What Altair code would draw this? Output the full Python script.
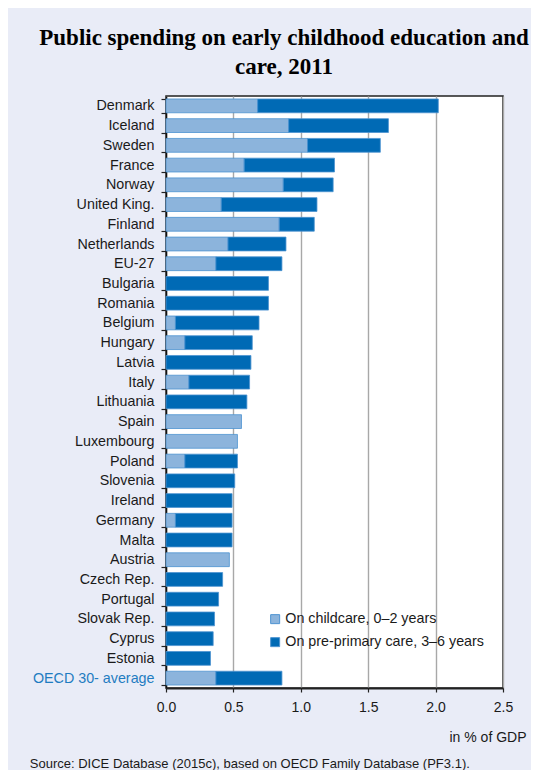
import altair as alt
import pandas as pd

countries = ["Denmark", "Iceland", "Sweden", "France", "Norway", "United King.", "Finland",
             "Netherlands", "EU-27", "Bulgaria", "Romania", "Belgium", "Hungary", "Latvia",
             "Italy", "Lithuania", "Spain", "Luxembourg", "Poland", "Slovenia", "Ireland",
             "Germany", "Malta", "Austria", "Czech Rep.", "Portugal", "Slovak Rep.", "Cyprus",
             "Estonia", "OECD 30- average"]
childcare = [0.68, 0.91, 1.05, 0.58, 0.87, 0.41, 0.84, 0.46, 0.37, 0.0, 0.0, 0.07, 0.14, 0.0,
             0.17, 0.0, 0.56, 0.53, 0.14, 0.0, 0.0, 0.07, 0.0, 0.47, 0.0, 0.0, 0.0, 0.0, 0.0, 0.37]
preprimary = [1.34, 0.74, 0.54, 0.67, 0.37, 0.71, 0.26, 0.43, 0.49, 0.76, 0.76, 0.62, 0.50, 0.63,
              0.45, 0.60, 0.0, 0.0, 0.39, 0.51, 0.49, 0.42, 0.49, 0.0, 0.42, 0.39, 0.36, 0.35,
              0.33, 0.49]
series_names = ["On childcare, 0\u20132 years", "On pre-primary care, 3\u20136 years"]
x_ticks = [0.0, 0.5, 1.0, 1.5, 2.0, 2.5]

rows = []
for c, a, b in zip(countries, childcare, preprimary):
    if a > 0:
        rows.append({"country": c, "series": series_names[0], "value": a, "ord": 0})
    if b > 0:
        rows.append({"country": c, "series": series_names[1], "value": b, "ord": 1})
df = pd.DataFrame(rows)

FONT = "Liberation Sans"
TXT = "#1a1a1a"

chart = alt.Chart(df).mark_bar(stroke="#4d93d1", strokeWidth=0.8).encode(
    y=alt.Y(
        "country:N",
        sort=countries,
        scale=alt.Scale(paddingInner=0.3, paddingOuter=0.15),
        axis=alt.Axis(
            title="Source: DICE Database (2015c), based on OECD Family Database (PF3.1).",
            titleAngle=0, titleAlign="left", titleBaseline="middle",
            titleX=-136.7, titleY=667, titleFont=FONT, titleFontSize=13,
            titleFontWeight="normal", titleColor=TXT,
            labelFont=FONT, labelFontSize=14.3, labelPadding=7,
            labelColor=alt.condition("datum.value == 'OECD 30- average'",
                                     alt.value("#1f7cc1"), alt.value(TXT)),
            tickBand="extent", tickSize=5, tickColor="#222", tickWidth=1.2,
            domainColor="#111", domainWidth=1.5, grid=False,
        ),
    ),
    x=alt.X(
        "value:Q",
        scale=alt.Scale(domain=[0, 2.5], nice=False, zero=True),
        axis=alt.Axis(
            values=x_ticks, format=".1f", labelFlush=False,
            title="in % of GDP", titleFont=FONT, titleFontSize=14,
            titleFontWeight="normal", titleColor=TXT, titleAlign="left",
            titleBaseline="middle", titleX=283, titleY=49,
            labelFont=FONT, labelFontSize=14, labelColor=TXT, labelPadding=8,
            tickSize=4, tickColor="#222", tickWidth=1.2,
            domainColor="#222", domainWidth=2,
            grid=True, gridColor="#a8a8a8", gridWidth=1.4,
        ),
    ),
    color=alt.Color(
        "series:N",
        scale=alt.Scale(domain=series_names, range=["#8cb4dc", "#006ab5"]),
        legend=alt.Legend(
            title=None, orient="none", legendX=102, legendY=516,
            symbolType="square", symbolSize=81, symbolStrokeWidth=1,
            labelFont=FONT, labelFontSize=14.3, labelColor=TXT, labelOffset=3,
            labelLimit=300, rowPadding=8, padding=0,
        ),
    ),
    order=alt.Order("ord:Q"),
).properties(
    width=337,
    height=592,
    padding={"left": 158, "top": 88, "right": 28, "bottom": 82},
    autosize=alt.AutoSizeParams(type="none"),
    background="#e9ecf7",
    title=alt.TitleParams(
        text=["Public spending on early childhood education and", "care, 2011"],
        font="Liberation Serif", fontSize=23, fontWeight="bold", color="black",
        anchor="middle", dx=-50.5, offset=10, lineHeight=29,
    ),
).configure_view(fill="white", stroke="#222", strokeWidth=1.5)

chart.save("out.html", embed_options={"renderer": "svg", "actions": False})
